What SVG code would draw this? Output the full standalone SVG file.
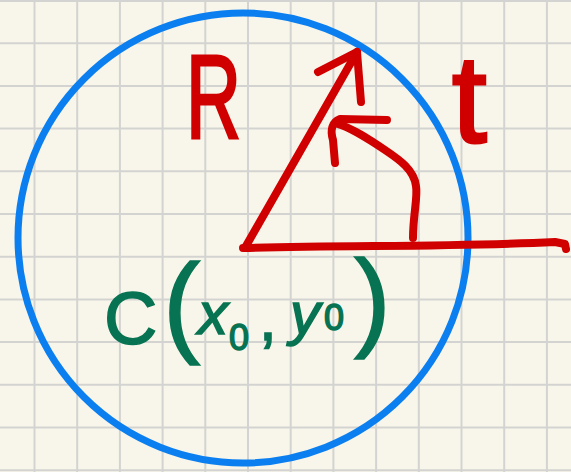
<svg xmlns="http://www.w3.org/2000/svg" width="571" height="472" viewBox="0 0 571 472">
<style>
.grid{stroke:#d3d3d1;stroke-width:2;fill:none}
.red{stroke:#d10000;stroke-width:8;fill:none;stroke-linecap:round;stroke-linejoin:round}
.rtxt{fill:#d10000;stroke:#d10000;stroke-width:3;font-family:"Liberation Sans",sans-serif}
.gtxt{fill:#077352;stroke:#077352;stroke-width:1.5;font-family:"Liberation Sans",sans-serif}
</style>
<rect width="571" height="472" fill="#f8f6ea"/>
<path class="grid" d="M34.5,0V472M77.2,0V472M119.9,0V472M162.6,0V472M205.3,0V472M248,0V472M290.7,0V472M333.4,0V472M376.1,0V472M418.8,0V472M461.5,0V472M504.2,0V472M546.9,0V472M0,1H571M0,43.2H571M0,85.9H571M0,128.6H571M0,171.3H571M0,214H571M0,256.7H571M0,299.4H571M0,342.1H571M0,384.8H571M0,427.5H571M0,470.2H571"/>
<g id="circle"><ellipse cx="243" cy="238" rx="225" ry="225" fill="none" stroke="#0b7ff0" stroke-width="7"/></g>
<g id="connectors">
<path class="red" d="M246,246 L357,52"/>
<path class="red" d="M318,72 L357,52 L361,102"/>
<path class="red" d="M243,248 C 350,245 450,247 555,242 L 565,244 L566,249"/>
<path class="red" d="M413,238 C 413,215 418,197 416,186 C 414,170 400,160 385,150 C 370,140 352,128 338,124"/>
<path class="red" d="M387,120 L340,119 C 332,122 330,130 333,140 L335,163"/>
</g>
<g id="label-R"><text class="rtxt" x="186" y="138" font-size="118" textLength="55" lengthAdjust="spacingAndGlyphs">R</text></g>
<g id="label-t"><text class="rtxt" x="452" y="142" font-size="125" stroke-width="2">t</text></g>
<g id="label-C">
<text class="gtxt" font-size="74"><tspan x="104" y="344">C</tspan><tspan x="163" y="342" font-size="112">(</tspan><tspan x="198" y="334" font-size="60" font-style="italic">x</tspan><tspan x="229" y="350" font-size="36">0</tspan><tspan x="259" y="340" font-size="64">,</tspan><tspan x="290" y="334" font-size="60" font-style="italic">y</tspan><tspan x="324" y="330" font-size="36">0</tspan><tspan x="354" y="336" font-size="110">)</tspan></text>
</g>
</svg>
